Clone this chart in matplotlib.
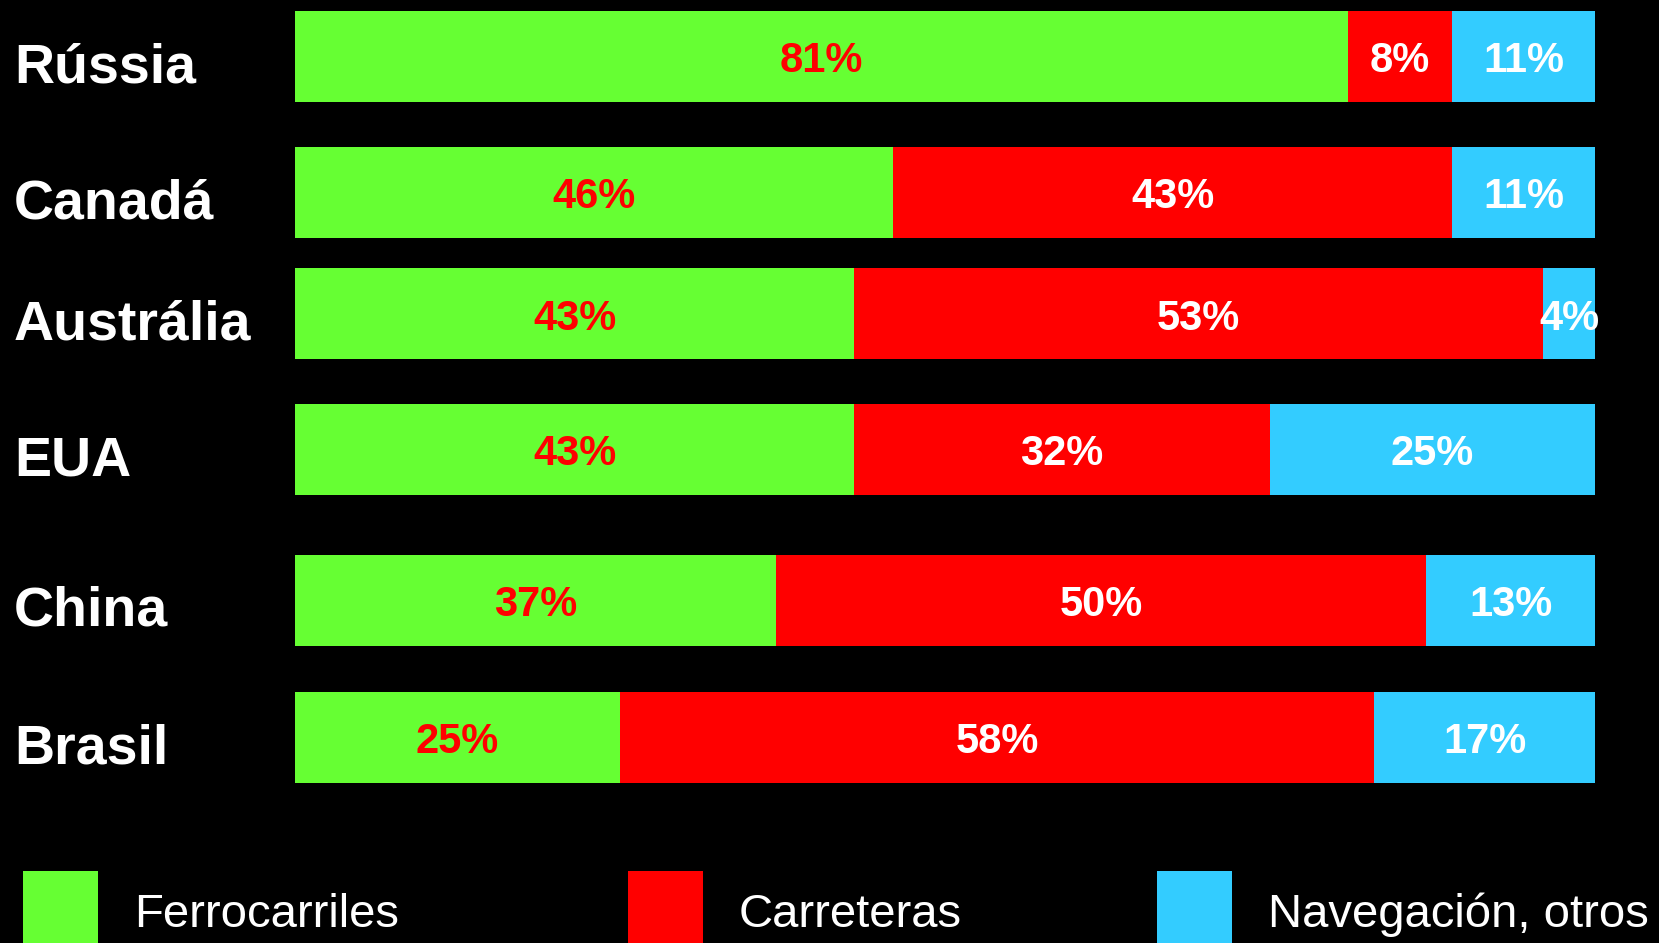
import matplotlib
matplotlib.use("Agg")
import matplotlib.pyplot as plt
from matplotlib.patches import Rectangle

# Freight transport modal split by country (%)
countries = ["Rússia", "Canadá", "Austrália", "EUA", "China", "Brasil"]
ferrocarriles = [81, 46, 43, 43, 37, 25]
carreteras = [8, 43, 53, 32, 50, 58]
navegacion = [11, 11, 4, 25, 13, 17]
series_names = ["Ferrocarriles", "Carreteras", "Navegación, otros"]

colors = ["#66FF33", "#FF0000", "#33CCFF"]
label_colors = ["#FF0000", "#FFFFFF", "#FFFFFF"]

# Layout (pixel units of a 1659x943 canvas)
W, H = 1659, 943
row_centers = [56.5, 192.5, 313.5, 449, 600, 737]
bar_height = 91
bar_left_px, bar_right_px = 295, 1595

plt.rcParams["font.family"] = ["Liberation Sans", "DejaVu Sans"]

fig = plt.figure(figsize=(W / 100, H / 100), dpi=100, facecolor="black")

# Bars axes: x in percent, y in pixel rows
ax = fig.add_axes([bar_left_px / W, 0, (bar_right_px - bar_left_px) / W, 1])
ax.set_facecolor("black")
ax.set_xlim(0, 100)
ax.set_ylim(H, 0)
ax.axis("off")

series = [ferrocarriles, carreteras, navegacion]
left = [0] * len(countries)
for vals, col, tcol in zip(series, colors, label_colors):
    ax.barh(row_centers, vals, left=left, height=bar_height, color=col,
            edgecolor="none")
    for y, v, l in zip(row_centers, vals, left):
        ax.text(l + v / 2, y + 5, f"{v}%", ha="center", va="center",
                fontsize=30, fontweight="bold", color=tcol)
    left = [a + b for a, b in zip(left, vals)]

# Country labels and legend on a full-figure overlay in pixel units
ov = fig.add_axes([0, 0, 1, 1])
ov.set_xlim(0, W)
ov.set_ylim(H, 0)
ov.axis("off")
ov.patch.set_alpha(0)

for name, y in zip(countries, row_centers):
    ov.text(14, y + 12, name, ha="left", va="center", fontsize=40,
            fontweight="bold", color="white")

legend_x = [23, 628, 1157]
for x, name, col in zip(legend_x, series_names, colors):
    ov.add_patch(Rectangle((x, 871), 75, 80, facecolor=col, edgecolor="none",
                           clip_on=False))
    ov.text(x + 111, 915, name, ha="left", va="center", fontsize=34,
            color="white")

fig.savefig("out.png", dpi=100, facecolor="black")
